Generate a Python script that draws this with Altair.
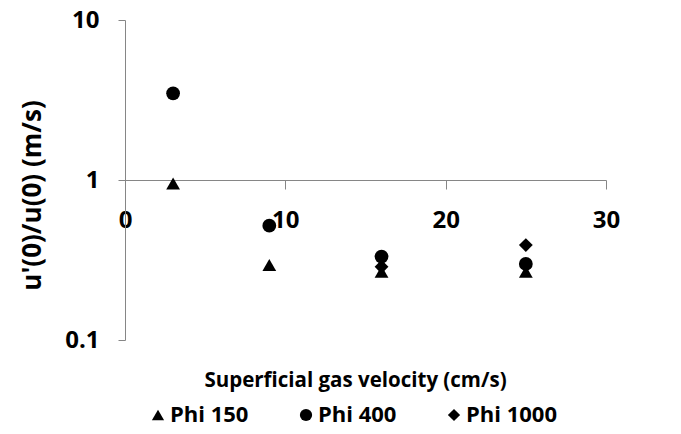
import altair as alt
import pandas as pd

# ---- data ----
series_names = ["Phi 150", "Phi 400", "Phi 1000"]
x_phi150 = [3, 9, 16, 25]
y_phi150 = [0.95, 0.294, 0.267, 0.267]
x_phi400 = [3, 9, 16, 25]
y_phi400 = [3.48, 0.518, 0.332, 0.299]
x_phi1000 = [16, 25]
y_phi1000 = [0.287, 0.392]
x_ticks = [0, 10, 20, 30]
y_ticks = [0.1, 1, 10]

rows = []
for name, xs, ys in zip(series_names,
                        [x_phi150, x_phi400, x_phi1000],
                        [y_phi150, y_phi400, y_phi1000]):
    for xv, yv in zip(xs, ys):
        rows.append({"series": name, "v": xv, "r": yv})
df = pd.DataFrame(rows)

FONT = "Open Sans"
GRAY = "#868686"

chart = alt.Chart(df).mark_point(
    filled=True, opacity=1, color="black", size=190
).encode(
    x=alt.X("v:Q",
            scale=alt.Scale(domain=[0, 30], nice=False),
            axis=alt.Axis(values=x_ticks, offset=-160, grid=False,
                          title="Superficial gas velocity (cm/s)",
                          titleX=230, titleY=200, titleAlign="center",
                          titleBaseline="middle", titleFontSize=20.5,
                          tickSize=9, labelPadding=19, labelFlush=False,
                          labelOverlap=False)),
    y=alt.Y("r:Q",
            scale=alt.Scale(type="log", domain=[0.1, 10], nice=False),
            axis=alt.Axis(values=y_ticks, format="~g", grid=False,
                          title="u'(0)/u(0) (m/s)",
                          titleX=-93, titleY=175, titleAngle=-90,
                          titleAlign="center", titleBaseline="middle",
                          titleFontSize=26,
                          tickSize=7, labelPadding=19, labelFlush=False,
                          labelOverlap=False)),
    shape=alt.Shape("series:N",
                    scale=alt.Scale(domain=series_names,
                                    range=["triangle-up", "circle", "diamond"]),
                    legend=alt.Legend(title=None, orient="none",
                                      direction="horizontal",
                                      legendX=22, legendY=384,
                                      columnPadding=46,
                                      symbolSize=150,
                                      symbolFillColor="black",
                                      symbolStrokeColor="black",
                                      labelFont=FONT, labelFontSize=22,
                                      labelFontWeight="bold",
                                      labelColor="black",
                                      labelOffset=1, labelLimit=300)),
    order=alt.Order("idx:Q"),
).transform_calculate(
    idx="datum.series == 'Phi 150' ? 0 : (datum.series == 'Phi 400' ? 1 : 2)"
).properties(
    width=481, height=320,
    autosize=alt.AutoSizeParams(type="none"),
    padding={"left": 117, "top": 12, "right": 67, "bottom": 86},
).configure_view(stroke=None).configure_axis(
    domainColor=GRAY, tickColor=GRAY,
    labelFont=FONT, labelFontSize=24, labelFontWeight="bold", labelColor="black",
    titleFont=FONT, titleFontWeight="bold", titleColor="black",
)

chart.save("out.html", embed_options={"renderer": "svg", "actions": False})
